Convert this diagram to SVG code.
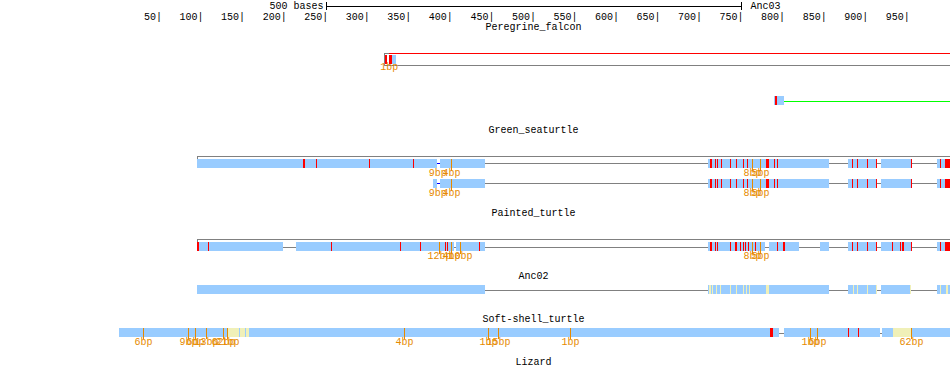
<svg xmlns="http://www.w3.org/2000/svg" width="950" height="381" viewBox="0 0 950 381">
<style>
text{font-family:"Liberation Mono","DejaVu Sans Mono",monospace;font-size:10px;fill:#000}
.lbl{text-anchor:middle}
.tk{text-anchor:end}
.ol{fill:#e68a00;text-anchor:middle;font-size:10px}
.b{fill:#99ccff}
.r{fill:#ff0000}
.y{fill:#f0f0b8}
.g{stroke:#808080;stroke-width:1;fill:none}
.o{stroke:#e68a00;stroke-width:1}
.k{stroke:#000;stroke-width:1}
</style>
<rect width="950" height="381" fill="#fff"/>
<g id="scale">
<text x="323.5" y="9" class="tk">500 bases</text>
<line class="k" x1="326" y1="6.5" x2="741.5" y2="6.5"/>
<line class="k" x1="326.5" y1="2" x2="326.5" y2="10"/>
<line class="k" x1="741.5" y1="2" x2="741.5" y2="10"/>
<text x="750.5" y="9">Anc03</text>
<text class="tk" y="20"><tspan x="162">50|</tspan><tspan x="203.6">100|</tspan><tspan x="245.1">150|</tspan><tspan x="286.7">200|</tspan><tspan x="328.2">250|</tspan><tspan x="369.7">300|</tspan><tspan x="411.3">350|</tspan><tspan x="452.8">400|</tspan><tspan x="494.4">450|</tspan><tspan x="535.9">500|</tspan><tspan x="577.5">550|</tspan><tspan x="619">600|</tspan><tspan x="660.5">650|</tspan><tspan x="702.1">700|</tspan><tspan x="743.6">750|</tspan><tspan x="785.1">800|</tspan><tspan x="826.7">850|</tspan><tspan x="868.2">900|</tspan><tspan x="909.8">950|</tspan></text>
</g>
<g id="peregrine_falcon">
<text x="533.5" y="29.5" class="lbl">Peregrine_falcon</text>
<line class="g" x1="384" y1="53.5" x2="389" y2="53.5"/>
<line x1="389" y1="53.5" x2="950" y2="53.5" stroke="#ff0000"/>
<line class="g" x1="384.5" y1="53" x2="384.5" y2="65"/>
<line class="g" x1="384" y1="65.5" x2="950" y2="65.5"/>
<rect class="r" x="385" y="55" width="2" height="9"/>
<rect class="r" x="389" y="55" width="3" height="9"/>
<rect class="b" x="392" y="55" width="4" height="9"/>
<text x="389.3" y="69.5" class="ol">1bp</text>
<line x1="784" y1="101.5" x2="950" y2="101.5" stroke="#00ff00"/>
<rect class="b" x="774" y="96" width="10" height="9"/>
<rect class="r" x="775" y="96" width="2" height="9"/>
</g>
<g id="green_seaturtle">
<text x="533.5" y="133" class="lbl">Green_seaturtle</text>
<line class="g" x1="197" y1="156.5" x2="950" y2="156.5"/>
<line class="g" x1="197.5" y1="156" x2="197.5" y2="168"/>
<line class="g" x1="485" y1="163.5" x2="950" y2="163.5"/>
<g class="b">
<rect x="197" y="159" width="240" height="9"/><rect x="440" y="159" width="45" height="9"/>
<rect x="708" y="159" width="121" height="9"/><rect x="848" y="159" width="29" height="9"/><rect x="881" y="159" width="30" height="9"/><rect x="937" y="159" width="13" height="9"/>
</g>
<line x1="437" y1="163.5" x2="440" y2="163.5" stroke="#0000ff"/>
<g class="r">
<rect x="303" y="159" width="2" height="9"/><rect x="316" y="159" width="1" height="9"/><rect x="369" y="159" width="1" height="9"/><rect x="413" y="159" width="1" height="9"/>
<rect x="710" y="159" width="2" height="9"/><rect x="715" y="159" width="1" height="9"/><rect x="717" y="159" width="1" height="9"/><rect x="721" y="159" width="1" height="9"/><rect x="730" y="159" width="1" height="9"/><rect x="736" y="159" width="1" height="9"/><rect x="743" y="159" width="1" height="9"/><rect x="747" y="159" width="1" height="9"/><rect x="766" y="159" width="3" height="9"/><rect x="774" y="159" width="1" height="9"/><rect x="777" y="159" width="1" height="9"/>
<rect x="852" y="159" width="1" height="9"/><rect x="857" y="159" width="1" height="9"/><rect x="867" y="159" width="1" height="9"/><rect x="876" y="159" width="1" height="9"/><rect x="911" y="159" width="1" height="9"/><rect x="940" y="159" width="1" height="9"/><rect x="945" y="159" width="5" height="9"/>
</g>
<line class="o" x1="451.5" y1="159" x2="451.5" y2="171"/>
<line class="o" x1="752.5" y1="159" x2="752.5" y2="171"/>
<line class="o" x1="760.5" y1="159" x2="760.5" y2="171"/>
<text x="437.7" y="176" class="ol">9bp</text><text x="451.5" y="176" class="ol">4bp</text>
<text x="752.5" y="176" class="ol">8bp</text><text x="760.5" y="176" class="ol">5bp</text>
<line class="g" x1="485" y1="183.5" x2="950" y2="183.5"/>
<g class="b">
<rect x="433" y="179" width="4" height="9"/><rect x="440" y="179" width="45" height="9"/>
<rect x="708" y="179" width="121" height="9"/><rect x="848" y="179" width="29" height="9"/><rect x="881" y="179" width="30" height="9"/><rect x="937" y="179" width="13" height="9"/>
</g>
<line x1="437" y1="183.5" x2="440" y2="183.5" stroke="#0000ff"/>
<g class="r">
<rect x="710" y="179" width="2" height="9"/><rect x="715" y="179" width="1" height="9"/><rect x="717" y="179" width="1" height="9"/><rect x="721" y="179" width="1" height="9"/><rect x="730" y="179" width="1" height="9"/><rect x="736" y="179" width="1" height="9"/><rect x="743" y="179" width="1" height="9"/><rect x="747" y="179" width="1" height="9"/><rect x="766" y="179" width="3" height="9"/><rect x="774" y="179" width="1" height="9"/><rect x="777" y="179" width="1" height="9"/>
<rect x="852" y="179" width="1" height="9"/><rect x="857" y="179" width="1" height="9"/><rect x="867" y="179" width="1" height="9"/><rect x="876" y="179" width="1" height="9"/><rect x="911" y="179" width="1" height="9"/><rect x="940" y="179" width="1" height="9"/><rect x="945" y="179" width="5" height="9"/>
</g>
<line class="o" x1="451.5" y1="179" x2="451.5" y2="191"/>
<line class="o" x1="752.5" y1="179" x2="752.5" y2="191"/>
<line class="o" x1="760.5" y1="179" x2="760.5" y2="191"/>
<text x="437.7" y="196" class="ol">9bp</text><text x="451.5" y="196" class="ol">4bp</text>
<text x="752.5" y="196" class="ol">8bp</text><text x="760.5" y="196" class="ol">5bp</text>
</g>
<g id="painted_turtle">
<text x="533.5" y="216" class="lbl">Painted_turtle</text>
<line class="g" x1="197" y1="239.5" x2="950" y2="239.5"/>
<line class="g" x1="197.5" y1="239" x2="197.5" y2="251"/>
<line class="g" x1="197" y1="247.5" x2="950" y2="247.5"/>
<g class="b">
<rect x="197" y="242" width="86" height="9"/><rect x="296" y="242" width="158" height="9"/><rect x="456" y="242" width="29" height="9"/>
<rect x="708" y="242" width="57" height="9"/><rect x="769" y="242" width="30" height="9"/><rect x="820" y="242" width="9" height="9"/><rect x="848" y="242" width="29" height="9"/><rect x="881" y="242" width="31" height="9"/><rect x="937" y="242" width="13" height="9"/>
</g>
<g class="r">
<rect x="197" y="242" width="2" height="9"/><rect x="208" y="242" width="1" height="9"/><rect x="331" y="242" width="1" height="9"/><rect x="400" y="242" width="1" height="9"/><rect x="420" y="242" width="1" height="9"/><rect x="445" y="242" width="1" height="9"/><rect x="447" y="242" width="1" height="9"/><rect x="479" y="242" width="1" height="9"/>
<rect x="710" y="242" width="2" height="9"/><rect x="715" y="242" width="1" height="9"/><rect x="717" y="242" width="1" height="9"/><rect x="730" y="242" width="1" height="9"/><rect x="735" y="242" width="2" height="9"/><rect x="740" y="242" width="1" height="9"/><rect x="743" y="242" width="1" height="9"/><rect x="745" y="242" width="1" height="9"/><rect x="748" y="242" width="1" height="9"/><rect x="755" y="242" width="1" height="9"/>
<rect x="777" y="242" width="1" height="9"/><rect x="783" y="242" width="2" height="9"/>
<rect x="852" y="242" width="1" height="9"/><rect x="857" y="242" width="1" height="9"/><rect x="867" y="242" width="1" height="9"/><rect x="876" y="242" width="1" height="9"/>
<rect x="892" y="242" width="1" height="9"/><rect x="900" y="242" width="1" height="9"/><rect x="902" y="242" width="2" height="9"/><rect x="911" y="242" width="1" height="9"/><rect x="940" y="242" width="1" height="9"/><rect x="945" y="242" width="5" height="9"/>
</g>
<line class="o" x1="439.5" y1="242" x2="439.5" y2="254"/>
<line class="o" x1="451.5" y1="242" x2="451.5" y2="254"/>
<line class="o" x1="460.5" y1="242" x2="460.5" y2="254"/>
<line class="o" x1="752.5" y1="242" x2="752.5" y2="254"/>
<line class="o" x1="760.5" y1="242" x2="760.5" y2="254"/>
<text x="439.5" y="259" class="ol">12bp</text><text x="451.5" y="259" class="ol">4bp</text><text x="460.5" y="259" class="ol">10bp</text>
<text x="752.5" y="259" class="ol">8bp</text><text x="760.5" y="259" class="ol">5bp</text>
</g>
<g id="anc02">
<text x="533.5" y="279" class="lbl">Anc02</text>
<line class="g" x1="485" y1="290.5" x2="950" y2="290.5"/>
<g class="b">
<rect x="197" y="285" width="288" height="9"/>
<rect x="708" y="285" width="121" height="9"/><rect x="848" y="285" width="29" height="9"/><rect x="881" y="285" width="30" height="9"/><rect x="937" y="285" width="13" height="9"/>
</g>
<g class="y">
<rect x="709" y="285" width="2" height="9"/><rect x="712" y="285" width="1" height="9"/><rect x="716" y="285" width="1" height="9"/><rect x="720" y="285" width="1" height="9"/><rect x="730" y="285" width="1" height="9"/><rect x="736" y="285" width="1" height="9"/><rect x="743" y="285" width="1" height="9"/><rect x="746" y="285" width="1" height="9"/><rect x="749" y="285" width="1" height="9"/><rect x="766" y="285" width="3" height="9"/>
<rect x="853" y="285" width="1" height="9"/><rect x="857" y="285" width="1" height="9"/><rect x="867" y="285" width="1" height="9"/><rect x="876" y="285" width="1" height="9"/><rect x="910" y="285" width="1" height="9"/><rect x="940" y="285" width="1" height="9"/><rect x="946" y="285" width="2" height="9"/>
</g>
</g>
<g id="soft_shell_turtle">
<text x="533.5" y="322" class="lbl">Soft-shell_turtle</text>
<line class="g" x1="779" y1="333.5" x2="885" y2="333.5"/>
<g class="b">
<rect x="119" y="328" width="660" height="9"/><rect x="784" y="328" width="96" height="9"/><rect x="882" y="328" width="68" height="9"/>
</g>
<g class="y">
<rect x="228" y="328" width="11" height="9"/><rect x="240" y="328" width="5" height="9"/><rect x="246" y="328" width="3" height="9"/><rect x="893" y="328" width="18" height="9"/>
</g>
<g class="r">
<rect x="770" y="328" width="3" height="9"/><rect x="848" y="328" width="1" height="9"/><rect x="858" y="328" width="1" height="9"/>
</g>
<g class="o">
<line x1="143.5" y1="328" x2="143.5" y2="339"/><line x1="188.5" y1="328" x2="188.5" y2="339"/><line x1="195.5" y1="328" x2="195.5" y2="339"/><line x1="206.5" y1="328" x2="206.5" y2="339"/><line x1="223.5" y1="328" x2="223.5" y2="339"/><line x1="227.5" y1="328" x2="227.5" y2="339"/><line x1="404.5" y1="328" x2="404.5" y2="339"/><line x1="488.5" y1="328" x2="488.5" y2="339"/><line x1="498.5" y1="328" x2="498.5" y2="339"/><line x1="570.5" y1="328" x2="570.5" y2="339"/><line x1="810.5" y1="328" x2="810.5" y2="339"/><line x1="817.5" y1="328" x2="817.5" y2="339"/><line x1="911.5" y1="328" x2="911.5" y2="339"/>
</g>
<text x="143.5" y="345" class="ol">6bp</text><text x="188.5" y="345" class="ol">9bp</text><text x="195.5" y="345" class="ol">6bp</text><text x="206.5" y="345" class="ol">13bp</text><text x="223.5" y="345" class="ol">62bp</text><text x="227.5" y="345" class="ol">21bp</text>
<text x="404.5" y="345" class="ol">4bp</text><text x="488.5" y="345" class="ol">1bp</text><text x="498.5" y="345" class="ol">15bp</text><text x="570.5" y="345" class="ol">1bp</text>
<text x="810.5" y="345" class="ol">1bp</text><text x="817.5" y="345" class="ol">6bp</text><text x="911.5" y="345" class="ol">62bp</text>
</g>
<g id="lizard">
<text x="533.5" y="365" class="lbl">Lizard</text>
</g>
<g id="connectors"></g>
</svg>
